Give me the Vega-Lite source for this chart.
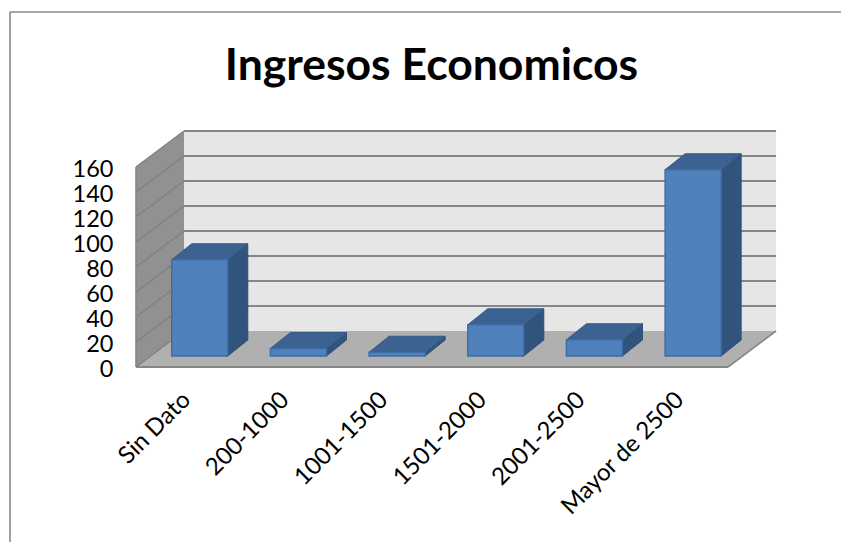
{
"$schema":"https://vega.github.io/schema/vega-lite/v6.json",
"width":831,"height":530,
"autosize":{"type":"none"},
"padding":{"left":10,"top":12,"right":0,"bottom":0},
"background":"#ffffff",
"view":{"stroke":null},
"config":{"font":"Lato"},
"title":{"text":"Ingresos Economicos","font":"Lato","fontSize":44.5,"fontWeight":"bold","color":"#000000","anchor":"middle","frame":"group","dx":6,"offset":-122,"baseline":"bottom"},
"datasets":{
"bars":[
{"i":0,"category":"Sin Dato","value":77},
{"i":1,"category":"200-1000","value":6},
{"i":2,"category":"1001-1500","value":3},
{"i":3,"category":"1501-2000","value":25},
{"i":4,"category":"2001-2500","value":13},
{"i":5,"category":"Mayor de 2500","value":149}
],
"grid":[{"v":0},{"v":20},{"v":40},{"v":60},{"v":80},{"v":100},{"v":120},{"v":140},{"v":160}],
"depth":[{"d":0},{"d":1}],
"one":[{"top":160}]
},
"encoding":{
"x":{"field":"x","type":"quantitative","stack":null,"scale":{"domain":[-1.277,7.145],"nice":false,"zero":false},
"axis":{"title":null,"values":[0.5,1.5,2.5,3.5,4.5,5.5],"labelExpr":"['Sin Dato','200-1000','1001-1500','1501-2000','2001-2500','Mayor de 2500'][floor(datum.value)]","labelAngle":-45,"labelAlign":"right","labelBaseline":"middle","labelFontSize":24,"labelFont":"Lato","labelColor":"#000000","labelOverlap":false,"labelBound":false,"labelFlush":false,"domain":false,"ticks":false,"grid":false,"offset":-175,"labelPadding":29,"labelOffset":1}},
"y":{"field":"y","type":"quantitative","stack":null,"scale":{"domain":[-140,284],"nice":false,"zero":false},
"axis":{"title":null,"values":[0,20,40,60,80,100,120,140,160],"labelFontSize":23.5,"labelFont":"Lato","labelColor":"#000000","labelOverlap":false,"labelBound":false,"labelFlush":false,"domain":false,"ticks":false,"grid":false,"offset":-103,"labelPadding":0,"labelOffset":2}}
},
"layer":[
{"data":{"name":"one"},"mark":{"type":"rect","fill":"#e6e6e6"},
"transform":[{"calculate":"0.4865","as":"x"},{"calculate":"6.4865","as":"x2"},{"calculate":"28.8","as":"y"},{"calculate":"datum.top+28.8","as":"y2"}],
"encoding":{"x2":{"field":"x2"},"y2":{"field":"y2"}}},
{"data":{"name":"depth"},"mark":{"type":"area","fill":"#919191","orient":"vertical"},
"transform":[{"calculate":"datum.d*0.4865","as":"x"},{"calculate":"datum.d*28.8","as":"y"},{"calculate":"160+datum.d*28.8","as":"y2"}],
"encoding":{"y2":{"field":"y2"}}},
{"data":{"name":"depth"},"mark":{"type":"area","fill":"#b0b0b0","orient":"horizontal"},
"transform":[{"calculate":"datum.d*0.4865","as":"x"},{"calculate":"6+datum.d*0.4865","as":"x2"},{"calculate":"datum.d*28.8","as":"y"}],
"encoding":{"x2":{"field":"x2"}}},
{"data":{"name":"grid"},"mark":{"type":"rule","stroke":"#868686","strokeWidth":2},
"transform":[{"filter":"datum.v>0"},{"calculate":"0.4865","as":"x"},{"calculate":"6.4865","as":"x2"},{"calculate":"datum.v+28.8","as":"y"},{"calculate":"datum.v+28.8","as":"y2"}],
"encoding":{"x2":{"field":"x2"},"y2":{"field":"y2"}}},
{"data":{"name":"grid"},"mark":{"type":"rule","stroke":"#808080","strokeWidth":1.4},
"transform":[{"calculate":"0","as":"x"},{"calculate":"0.4865","as":"x2"},{"calculate":"datum.v","as":"y"},{"calculate":"datum.v+28.8","as":"y2"}],
"encoding":{"x2":{"field":"x2"},"y2":{"field":"y2"}}},
{"data":{"name":"one"},"mark":{"type":"rule","stroke":"#868686","strokeWidth":2},
"transform":[{"calculate":"0","as":"x"},{"calculate":"0","as":"y"},{"calculate":"6","as":"x2"},{"calculate":"0","as":"y2"}],
"encoding":{"x2":{"field":"x2"},"y2":{"field":"y2"}}},
{"data":{"name":"one"},"mark":{"type":"rule","stroke":"#868686","strokeWidth":1.6},
"transform":[{"calculate":"6","as":"x"},{"calculate":"0","as":"y"},{"calculate":"6.4865","as":"x2"},{"calculate":"28.8","as":"y2"}],
"encoding":{"x2":{"field":"x2"},"y2":{"field":"y2"}}},
{"data":{"name":"one"},"mark":{"type":"rule","stroke":"#868686","strokeWidth":1.6},
"transform":[{"calculate":"0","as":"x"},{"calculate":"0","as":"y"},{"calculate":"0","as":"x2"},{"calculate":"160","as":"y2"}],
"encoding":{"x2":{"field":"x2"},"y2":{"field":"y2"}}},
{"data":{"name":"bars"},"mark":{"type":"area","fill":"#31547c","stroke":"#2d5078","strokeWidth":1,"orient":"vertical"},
"transform":[{"calculate":"[0,1]","as":"d"},{"flatten":["d"]},{"calculate":"datum.i+0.93+datum.d*0.203","as":"x"},{"calculate":"8.8+datum.value+datum.d*12.8","as":"y"},{"calculate":"8.8+datum.d*12.8","as":"y2"}],
"encoding":{"y2":{"field":"y2"},"detail":{"field":"category"}}},
{"data":{"name":"bars"},"mark":{"type":"area","fill":"#3b6291","stroke":"#365b88","strokeWidth":1,"orient":"horizontal"},
"transform":[{"calculate":"[0,1]","as":"d"},{"flatten":["d"]},{"calculate":"datum.i+0.362+datum.d*0.203","as":"x"},{"calculate":"datum.i+0.93+datum.d*0.203","as":"x2"},{"calculate":"8.8+datum.value+datum.d*12.8","as":"y"}],
"encoding":{"x2":{"field":"x2"},"detail":{"field":"category"}}},
{"data":{"name":"bars"},"mark":{"type":"rect","fill":"#4f81bd","stroke":"#3f6ca3","strokeWidth":1.4},
"transform":[{"calculate":"datum.i+0.362","as":"x"},{"calculate":"datum.i+0.93","as":"x2"},{"calculate":"8.8","as":"y"},{"calculate":"8.8+datum.value","as":"y2"}],
"encoding":{"x2":{"field":"x2"},"y2":{"field":"y2"}}},
{"data":{"name":"one"},"mark":{"type":"rule","stroke":"#8a8a8a","strokeWidth":1.6},
"transform":[{"calculate":"-1.277","as":"x"},{"calculate":"-140","as":"y"},{"calculate":"-1.277","as":"x2"},{"calculate":"284","as":"y2"}],
"encoding":{"x2":{"field":"x2"},"y2":{"field":"y2"}}},
{"data":{"name":"one"},"mark":{"type":"rule","stroke":"#8a8a8a","strokeWidth":1.6},
"transform":[{"calculate":"-1.277","as":"x"},{"calculate":"284","as":"y"},{"calculate":"7.145","as":"x2"},{"calculate":"284","as":"y2"}],
"encoding":{"x2":{"field":"x2"},"y2":{"field":"y2"}}}
]
}
